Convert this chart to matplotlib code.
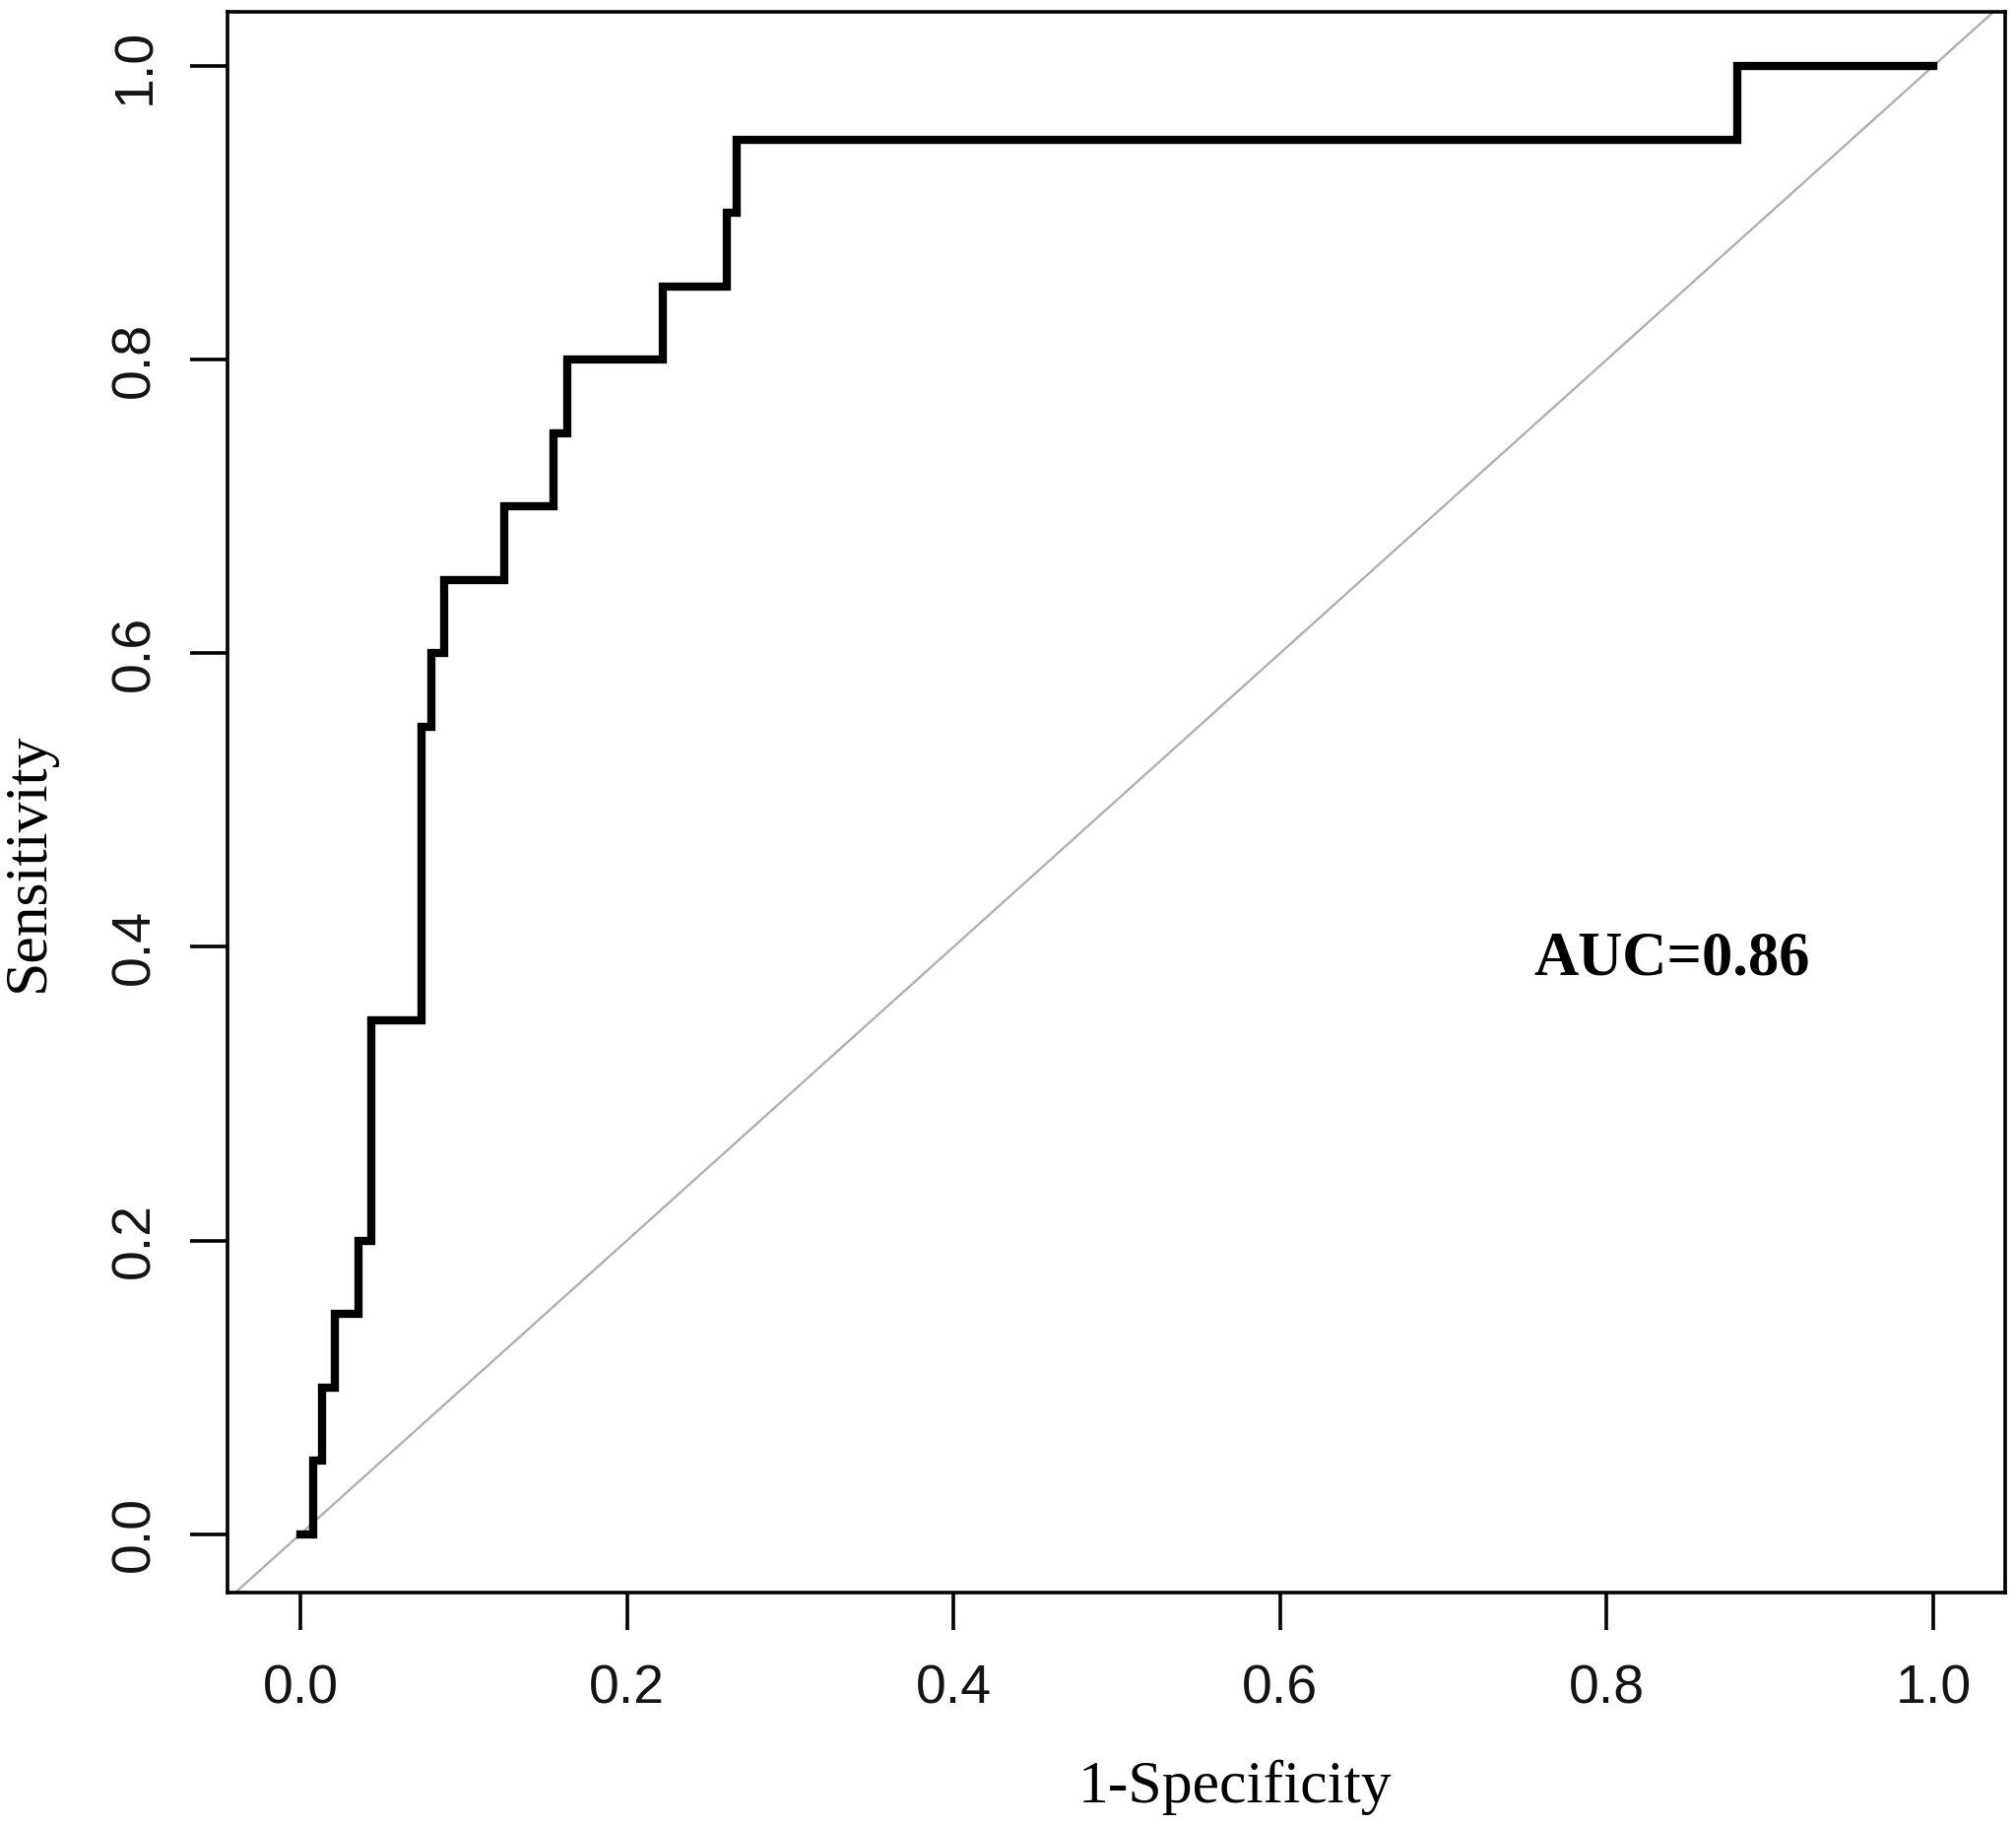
import matplotlib
matplotlib.use("Agg")
import matplotlib.pyplot as plt

# ROC curve: false-positive rate where each vertical step occurs, and sensitivity after the step
fpr = [0.0, 0.0077, 0.0131, 0.0211, 0.0356, 0.0436, 0.0744, 0.080, 0.088,
       0.1247, 0.155, 0.1637, 0.222, 0.2614, 0.267, 0.880, 1.0]
sens = [0.0, 0.05, 0.10, 0.15, 0.20, 0.35, 0.55, 0.60, 0.65,
        0.70, 0.75, 0.80, 0.85, 0.90, 0.95, 1.0, 1.0]
ticks = [0.0, 0.2, 0.4, 0.6, 0.8, 1.0]
tick_labels = ["0.0", "0.2", "0.4", "0.6", "0.8", "1.0"]
auc_text = "AUC=0.86"
xlabel = "1-Specificity"
ylabel = "Sensitivity"

W, H = 2047, 1852
fig = plt.figure(figsize=(W / 100, H / 100), dpi=100)
ax = fig.add_axes([231 / W, 1 - 1616.7 / H, (2036 - 231) / W, (1616.7 - 11.7) / H])

ax.set_xlim(-0.0446, 1.044)
ax.set_ylim(-0.0396, 1.0371)

# diagonal reference line
ax.axline((0, 0), (1, 1), color="#b0b0b0", lw=1.7, zorder=1)

# ROC step curve
ax.step(fpr, sens, where="post", color="black", lw=6.0, zorder=3,
        solid_joinstyle="miter")

for s in ax.spines.values():
    s.set_linewidth(2.6)
    s.set_color("black")

ax.set_xticks(ticks)
ax.set_xticklabels(tick_labels)
ax.set_yticks(ticks)
ax.set_yticklabels(tick_labels, rotation=90, va="center")
ax.tick_params(axis="both", direction="out", length=27.4, width=2.6,
               labelsize=40, colors="black", labelcolor="#141414")
ax.tick_params(axis="x", pad=25)
ax.tick_params(axis="y", pad=21)
for lab in ax.get_xticklabels() + ax.get_yticklabels():
    lab.set_family(["Liberation Sans", "DejaVu Sans"])

ax.text(0.84, 0.381, auc_text, ha="center", va="baseline",
        fontsize=45, fontweight="bold", family=["Liberation Serif", "DejaVu Serif"])

fig.text(1254 / W, 1 - 1830 / H, xlabel, ha="center", va="baseline",
         fontsize=44.5, family=["Liberation Serif", "DejaVu Serif"])
fig.text(29 / W, 1 - 875 / H, ylabel, ha="center", va="center", rotation=90,
         fontsize=44.5, family=["Liberation Serif", "DejaVu Serif"])

fig.savefig("out.png", dpi=100, facecolor="white")
